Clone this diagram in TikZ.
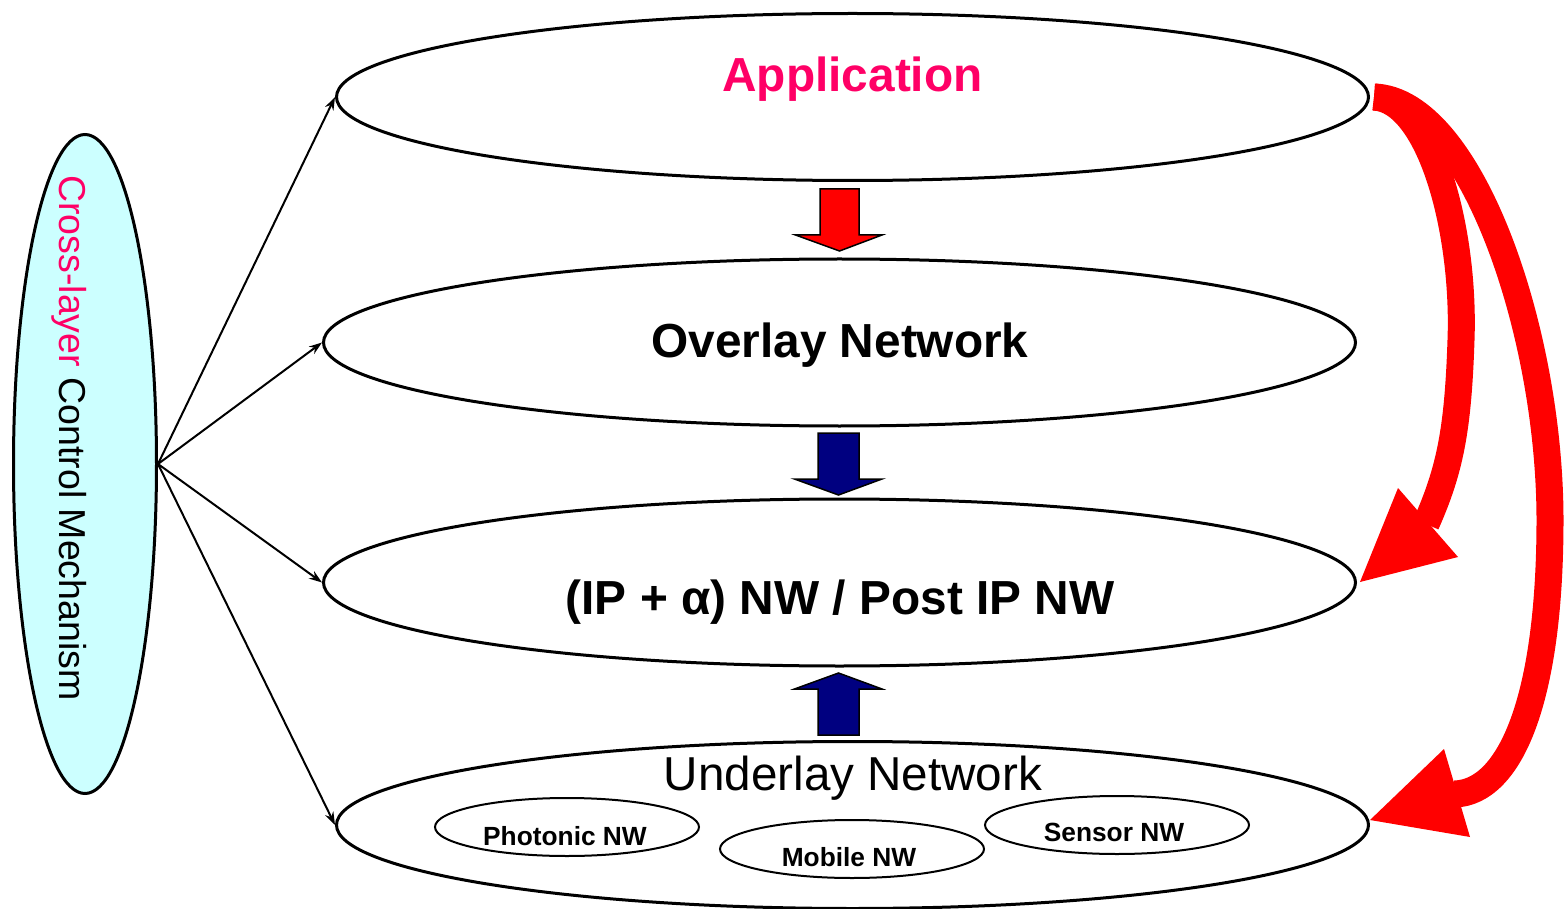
\documentclass[tikz,border=0pt]{standalone}
\usepackage{fontspec}
\setmainfont{Liberation Sans}
\usetikzlibrary{shapes.geometric,arrows.meta}
\definecolor{pinktxt}{HTML}{FF0066}
\definecolor{cyanfill}{HTML}{CCFFFF}
\definecolor{navyblk}{HTML}{000080}
\definecolor{redarr}{HTML}{FF0000}
\begin{document}
\begin{tikzpicture}[x=1pt,y=-1pt,
  layer/.style={ellipse,draw,line width=3pt,minimum width=1032pt,minimum height=167pt,inner sep=0pt},
  subnw/.style={ellipse,draw,line width=2pt,minimum width=264pt,minimum height=58pt,inner sep=0pt},
  bigbold/.style={font=\fontsize{47.8}{56}\selectfont\bfseries,inner sep=0pt,anchor=base},
  bigreg/.style={font=\fontsize{47.6}{56}\selectfont,inner sep=0pt,anchor=base},
  smallbold/.style={font=\fontsize{26.3}{31}\selectfont\bfseries,inner sep=0pt,anchor=base},
  crossfont/.style={font=\fontsize{37.5}{45}\selectfont,inner sep=0pt,anchor=base,rotate=-90},
  ctrl/.style={line width=2pt,-{Stealth[length=13pt,width=9pt]}},
  redcurve/.style={draw=redarr,line width=27pt,line cap=butt},
  redhead/.style={fill=redarr},
  blockred/.style={fill=redarr,draw=black,line width=1.5pt,line join=miter},
  blockblue/.style={fill=navyblk,draw=black,line width=1.5pt,line join=miter}
]
\useasboundingbox (0,0) rectangle (1564,909);

% left control ellipse
\node[ellipse,draw,line width=3pt,fill=cyanfill,minimum width=143pt,minimum height=659pt,inner sep=0pt] (cross) at (85,464) {};
\node[crossfont] (crosstxt) at (59,438) {\textcolor{pinktxt}{Cross-layer} Control Mechanism};

% layers
\node[layer] (app) at (852.5,97) {};
\node[layer] (ovl) at (839.5,342.5) {};
\node[layer] (ip)  at (839.5,582.5) {};
\node[layer] (und) at (852.5,825) {};

\node[bigbold,text=pinktxt] (apptxt) at (852.5,92) {Application};
\node[bigbold] (ovltxt) at (840,358) {Overlay Network};
\node[bigbold] (iptxt) at (840,614) {(IP + α) NW / Post IP NW};
\node[bigreg] (undtxt) at (853,790) {Underlay Network};

% sub networks
\node[subnw] (pho) at (567,827) {};
\node[subnw] (mob) at (852,849) {};
\node[subnw] (sen) at (1117,825) {};
\node[smallbold] (photxt) at (565,845) {Photonic NW};
\node[smallbold] (mobtxt) at (849,866) {Mobile NW};
\node[smallbold] (sentxt) at (1114,841) {Sensor NW};

% control connectors
\draw[ctrl] (cross.east) -- (app.west);
\draw[ctrl] (cross.east) -- (ovl.west);
\draw[ctrl] (cross.east) -- (ip.west);
\draw[ctrl] (cross.east) -- (und.west);

% block arrows
\coordinate (ra) at (839.5,189);
\draw[blockred] (ra) ++(-19.5,0) -- ++(39,0) -- ++(0,46) -- ++(23,0) -- (839.5,251) -- (795.5,235) -- (820,235) -- cycle;
\coordinate (ba) at (838.5,433);
\draw[blockblue] (ba) ++(-20.5,0) -- ++(41,0) -- ++(0,46) -- ++(23,0) -- (838.5,495) -- (794.5,479) -- (818,479) -- cycle;
\coordinate (bb) at (838.5,735);
\draw[blockblue] (bb) ++(-20.5,0) -- ++(41,0) -- ++(0,-46) -- ++(23,0) -- (838.5,673) -- (794.5,689) -- (818,689) -- cycle;

% red curved arrows
\coordinate (rs) at ([xshift=4pt]app.east);
\coordinate (h1a) at (1398,488);
\coordinate (h1b) at (1458,557);
\coordinate (h1t) at (1360,582);
\coordinate (h1m) at (1426,524);
\coordinate (h2a) at (1444,749);
\coordinate (h2b) at (1470,837);
\coordinate (h2t) at (1370,820);
\coordinate (h2m) at (1455,794);
\draw[redcurve] (rs) .. controls (1470,100) and (1550,330) .. (1550,520)
   .. controls (1550,700) and (1510,792) .. (h2m);
\fill[redhead] (h2a) -- (h2t) -- (h2b) -- cycle;
\draw[redcurve] (rs) .. controls (1430,100) and (1465,230) .. (1461,340)
   .. controls (1458,430) and (1450,470) .. (h1m);
\fill[redhead] (h1a) -- (h1t) -- (h1b) -- cycle;
\end{tikzpicture}
\end{document}
